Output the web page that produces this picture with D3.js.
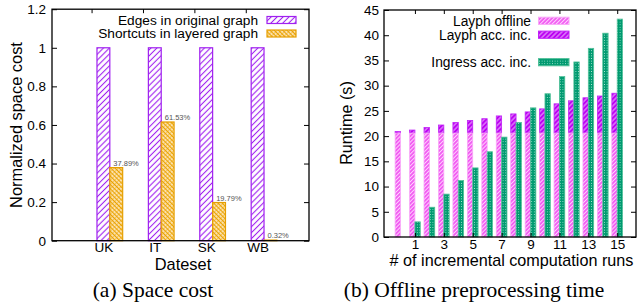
<!DOCTYPE html>
<html><head><meta charset="utf-8">
<script src="https://cdn.jsdelivr.net/npm/d3@7"></script>
<style>
html,body{margin:0;padding:0;background:#fff;}
text{font-family:"Liberation Sans",Arial,Helvetica,sans-serif;}
.cap{font-family:"Liberation Serif","Times New Roman",serif;}
</style>
</head><body>
<svg id="chart" width="639" height="308"></svg>
<script>
// ---- Data: (a) Space cost ----
const datasets = ["UK", "IT", "SK", "WB"];
const edgesOriginal = [1, 1, 1, 1];
const shortcutsLayered = [0.3789, 0.6153, 0.1979, 0.0032];
const shortcutLabels = ["37.89%", "61.53%", "19.79%", "0.32%"];
const spaceTicks = [0, 0.2, 0.4, 0.6, 0.8, 1, 1.2];

// ---- Data: (b) Offline preprocessing time ----
const runs = [0,1,2,3,4,5,6,7,8,9,10,11,12,13,14,15];
const layphOffline = [20.6,20.6,20.6,20.6,20.6,20.6,20.6,20.6,20.6,20.6,20.6,20.6,20.6,20.6,20.6,20.6];
const layphAccInc = [20.9,21.2,21.7,22.2,22.7,23.1,23.45,24.0,24.4,24.8,25.4,26.4,27.0,27.6,27.95,28.5];
const ingressAccInc = [null,3.0,5.9,8.5,11.2,13.7,16.9,19.8,22.7,25.6,28.4,31.8,34.7,37.4,40.4,43.2];
const runTicks = [1,3,5,7,9,11,13,15];
const runtimeTicks = [0,5,10,15,20,25,30,35,40,45];

const svg = d3.select("#chart");
const defs = svg.append("defs");

function hatch(id, bg, fg, size, sw, angle) {
  const p = defs.append("pattern").attr("id", id).attr("patternUnits", "userSpaceOnUse")
    .attr("width", size).attr("height", size).attr("patternTransform", `rotate(${angle})`);
  p.append("rect").attr("width", size).attr("height", size).attr("fill", bg);
  p.append("line").attr("x1", size/2).attr("y1", 0).attr("x2", size/2).attr("y2", size)
    .attr("stroke", fg).attr("stroke-width", sw);
}
hatch("pPurpleL", "#fff", "#a020f0", 4.2, 1.1, 45);
// orange cross hatch
(function(){
  const s = 3;
  const p = defs.append("pattern").attr("id", "pOrange").attr("patternUnits", "userSpaceOnUse")
    .attr("width", s).attr("height", s).attr("patternTransform", "rotate(-45)");
  p.append("rect").attr("width", s).attr("height", s).attr("fill", "#fde8c0");
  p.append("line").attr("x1", s/2).attr("y1", 0).attr("x2", s/2).attr("y2", s).attr("stroke", "#eaa200").attr("stroke-width", 1.2);
  p.append("line").attr("x1", 0).attr("y1", s/2).attr("x2", s).attr("y2", s/2).attr("stroke", "#eaa200").attr("stroke-width", 0.5);
})();
hatch("pPink", "#f25ef2", "#ffd8ff", 2.8, 0.9, 45);
hatch("pPurpleR", "#bc00f2", "#f0c8ff", 3.4, 0.9, 45);
(function(){
  const p = defs.append("pattern").attr("id", "pGreen").attr("patternUnits", "userSpaceOnUse")
    .attr("width", 2.6).attr("height", 2.6);
  p.append("rect").attr("width", 2.6).attr("height", 2.6).attr("fill", "#009a70");
  p.append("circle").attr("cx", 1.3).attr("cy", 1.3).attr("r", 0.5).attr("fill", "#c8f5e4");
})();

const sans = '"Liberation Sans",Arial,sans-serif';

// ================= Chart (a) =================
const L = {left: 52, right: 309, top: 9.2, bottom: 240.7};
const xL = d3.scaleLinear().domain([-1, 4]).range([L.left, L.right]);
const yL = d3.scaleLinear().domain([0, 1.2]).range([L.bottom, L.top]);
const bw = 0.25;
const gA = svg.append("g");

gA.selectAll("rect.e").data(datasets).join("rect")
  .attr("x", (d,i) => xL(i - bw/2)).attr("width", xL(bw) - xL(0))
  .attr("y", (d,i) => yL(edgesOriginal[i])).attr("height", (d,i) => yL(0) - yL(edgesOriginal[i]))
  .attr("fill", "url(#pPurpleL)").attr("stroke", "#a020f0").attr("stroke-width", 1.2);
gA.selectAll("rect.s").data(datasets).join("rect")
  .attr("x", (d,i) => xL(i + bw/2)).attr("width", xL(bw) - xL(0))
  .attr("y", (d,i) => yL(shortcutsLayered[i])).attr("height", (d,i) => Math.max(0.6, yL(0) - yL(shortcutsLayered[i])))
  .attr("fill", "url(#pOrange)").attr("stroke", "#e69f00").attr("stroke-width", 1.2);
gA.selectAll("text.v").data(shortcutLabels).join("text")
  .attr("x", (d,i) => xL(i + bw/2) + 3.5).attr("y", (d,i) => yL(shortcutsLayered[i]) - 2)
  .attr("font-size", 7.5).attr("fill", "#555").text(d => d);

const axL = gA.append("g").attr("transform", `translate(${L.left},0)`)
  .call(d3.axisLeft(yL).tickValues(spaceTicks).tickFormat(d => d3.format("~g")(d)).tickSizeInner(-5).tickSizeOuter(0).tickPadding(6));
const axLR = gA.append("g").attr("transform", `translate(${L.right},0)`)
  .call(d3.axisRight(yL).tickValues(spaceTicks).tickFormat("").tickSizeInner(-5).tickSizeOuter(0));
const axLB = gA.append("g").attr("transform", `translate(0,${L.bottom})`)
  .call(d3.axisBottom(xL).tickValues([0,1,2,3]).tickFormat((d) => datasets[d]).tickSize(0).tickPadding(0));
const axLT = gA.append("g").attr("transform", `translate(0,${L.top})`)
  .call(d3.axisTop(xL).tickValues([0,1,2,3].map(v => v - 0.23)).tickFormat("").tickSizeInner(-4).tickSizeOuter(0));
[axL, axLR, axLB, axLT].forEach(a => {
  a.select(".domain").remove();
  a.selectAll("line").attr("stroke", "#000").attr("stroke-width", 1);
  a.selectAll("text").attr("font-size", 13.5).attr("fill", "#000").attr("font-family", sans);
});
axLB.selectAll("text").attr("dy", null).attr("y", 11.5);
gA.append("rect").attr("x", L.left).attr("y", L.top).attr("width", L.right - L.left).attr("height", L.bottom - L.top)
  .attr("fill", "none").attr("stroke", "#000").attr("stroke-width", 1.3);

const legA = [["Edges in original graph", "url(#pPurpleL)", "#a020f0"], ["Shortcuts in layered graph", "url(#pOrange)", "#e69f00"]];
legA.forEach((d, i) => {
  const yc = 20 + i * 13.5;
  gA.append("text").attr("x", 258).attr("y", yc + 4.8).attr("text-anchor", "end").attr("font-size", 13.7).text(d[0]);
  gA.append("rect").attr("x", 267).attr("y", yc - 3.5).attr("width", 29).attr("height", 7)
    .attr("fill", d[1]).attr("stroke", d[2]).attr("stroke-width", 1.2);
});
gA.append("text").attr("transform", `translate(22,125) rotate(-90)`).attr("text-anchor", "middle")
  .attr("font-size", 16.4).text("Normalized space cost");
gA.append("text").attr("x", 183).attr("y", 269.5).attr("text-anchor", "middle").attr("font-size", 16.4).text("Dateset");
gA.append("text").attr("class", "cap").attr("x", 153).attr("y", 297).attr("text-anchor", "middle").attr("font-size", 21.5).text("(a) Space cost");

// ================= Chart (b) =================
const R = {left: 384, right: 636, top: 10, bottom: 237};
const xR = d3.scaleLinear().domain([-1.14, 16.3]).range([R.left, R.right]);
const yR = d3.scaleLinear().domain([0, 45]).range([R.bottom, R.top]);
const rw = 0.37;
const gB = svg.append("g");

gB.selectAll("rect.acc").data(runs).join("rect")
  .attr("x", d => xR(d - rw)).attr("width", xR(rw) - xR(0))
  .attr("y", (d,i) => yR(layphAccInc[i])).attr("height", (d,i) => yR(layphOffline[i]) - yR(layphAccInc[i]))
  .attr("fill", "url(#pPurpleR)").attr("stroke", "#c020f8").attr("stroke-width", 0.8);
gB.selectAll("rect.off").data(runs).join("rect")
  .attr("x", d => xR(d - rw)).attr("width", xR(rw) - xR(0))
  .attr("y", (d,i) => yR(layphOffline[i])).attr("height", (d,i) => yR(0) - yR(layphOffline[i]))
  .attr("fill", "url(#pPink)").attr("stroke", "#f8a8f8").attr("stroke-width", 0.8);
gB.selectAll("rect.ing").data(runs.filter((d,i) => ingressAccInc[i] != null)).join("rect")
  .attr("x", d => xR(d)).attr("width", xR(rw) - xR(0))
  .attr("y", d => yR(ingressAccInc[d])).attr("height", d => yR(0) - yR(ingressAccInc[d]))
  .attr("fill", "url(#pGreen)").attr("stroke", "#50c098").attr("stroke-width", 0.8);

const axR = gB.append("g").attr("transform", `translate(${R.left},0)`)
  .call(d3.axisLeft(yR).tickValues(runtimeTicks).tickSizeInner(-5).tickSizeOuter(0).tickPadding(5));
const axRR = gB.append("g").attr("transform", `translate(${R.right},0)`)
  .call(d3.axisRight(yR).tickValues(runtimeTicks).tickFormat("").tickSizeInner(-5).tickSizeOuter(0));
const axRB = gB.append("g").attr("transform", `translate(0,${R.bottom})`)
  .call(d3.axisBottom(xR).tickValues(runTicks).tickSizeInner(-4).tickSizeOuter(0).tickPadding(0));
const axRT = gB.append("g").attr("transform", `translate(0,${R.top})`)
  .call(d3.axisTop(xR).tickValues(runTicks).tickFormat("").tickSizeInner(-4).tickSizeOuter(0));
[axR, axRR, axRB, axRT].forEach(a => {
  a.select(".domain").remove();
  a.selectAll("line").attr("stroke", "#000").attr("stroke-width", 1);
  a.selectAll("text").attr("font-size", 13.5).attr("fill", "#000").attr("font-family", sans);
});
axRB.selectAll("text").attr("dy", null).attr("y", 12);
gB.append("rect").attr("x", R.left).attr("y", R.top).attr("width", R.right - R.left).attr("height", R.bottom - R.top)
  .attr("fill", "none").attr("stroke", "#000").attr("stroke-width", 1.3);

const legB = [["Layph offline", "url(#pPink)", "#f8a8f8", 20.8], ["Layph acc. inc.", "url(#pPurpleR)", "#c020f8", 34.7], ["Ingress acc. inc.", "url(#pGreen)", "#50c098", 62.2]];
legB.forEach(d => {
  gB.append("text").attr("x", 531).attr("y", d[3] + 4.8).attr("text-anchor", "end").attr("font-size", 13.8).text(d[0]);
  gB.append("rect").attr("x", 538.5).attr("y", d[3] - 3.6).attr("width", 30.5).attr("height", 7.2)
    .attr("fill", d[1]).attr("stroke", d[2]).attr("stroke-width", 1);
});
gB.append("text").attr("transform", `translate(352,123) rotate(-90)`).attr("text-anchor", "middle")
  .attr("font-size", 16.2).text("Runtime (s)");
gB.append("text").attr("x", 511.5).attr("y", 265.5).attr("text-anchor", "middle").attr("font-size", 16.2).text("# of incremental computation runs");
gB.append("text").attr("class", "cap").attr("x", 474).attr("y", 297).attr("text-anchor", "middle").attr("font-size", 21.5).text("(b) Offline preprocessing time");
</script>
</body></html>
